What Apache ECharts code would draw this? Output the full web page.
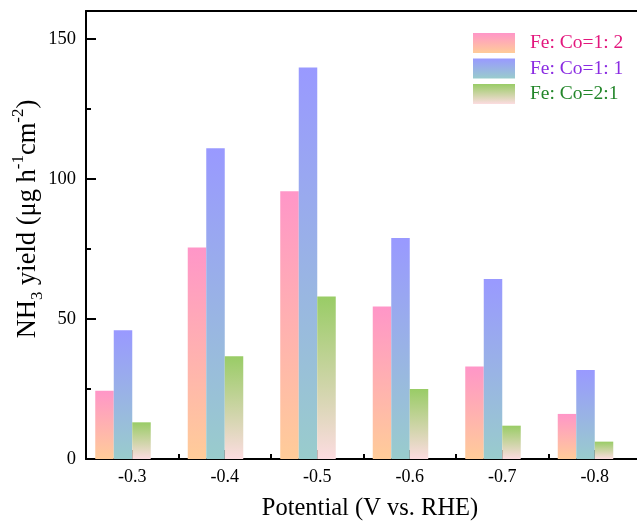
<!DOCTYPE html>
<html>
<head>
<meta charset="utf-8">
<script src="https://cdn.jsdelivr.net/npm/echarts@6/dist/echarts.min.js"></script>
<style>
html,body{margin:0;padding:0;background:#fff;}
#c{width:637px;height:522px;}
</style>
</head>
<body>
<div id="c"></div>
<script>
var categories = ['-0.3', '-0.4', '-0.5', '-0.6', '-0.7', '-0.8'];
var seriesNames = ['Fe: Co=1: 2', 'Fe: Co=1: 1', 'Fe: Co=2:1'];
var ratio12 = [24.4, 75.5, 95.6, 54.5, 33.0, 16.1];
var ratio11 = [46.0, 111.0, 139.8, 78.9, 64.3, 31.8];
var ratio21 = [13.1, 36.7, 58.0, 25.0, 11.9, 6.2];
var yMajorTicks = [0, 50, 100, 150];
var yMinorTicks = [25, 75, 125];

var FONT = '"Liberation Serif", "Times New Roman", serif';

function grad(top, bottom) {
  return new echarts.graphic.LinearGradient(0, 0, 0, 1, [
    {offset: 0, color: top}, {offset: 1, color: bottom}
  ]);
}
var fills = [
  grad('#ff96c8', '#ffcc99'),
  grad('#9999ff', '#99cccc'),
  grad('#99cc66', '#fcdce0')
];
var textColors = ['#e3177d', '#8a2be2', '#23862a'];
var values = [ratio12, ratio11, ratio21];

var chart = echarts.init(document.getElementById('c'), null, {renderer: 'canvas'});
var option = {
  backgroundColor: '#ffffff',
  animation: false,
  grid: [
    {left: 76.75, top: 11, width: 555, height: 448, outerBoundsMode: 'none'},
    {left: 86, top: 11, width: 555, height: 448, outerBoundsMode: 'none'}
  ],
  legend: {
    orient: 'vertical',
    left: 468,
    top: 28,
    itemWidth: 42,
    itemHeight: 20,
    itemGap: 5.5,
    icon: 'rect',
    textStyle: {fontFamily: FONT, fontSize: 19.5, padding: [0, 0, 0, 10]},
    data: seriesNames.map(function (n, i) {
      return {name: n, textStyle: {color: textColors[i]}};
    })
  },
  xAxis: [
    {
      gridIndex: 0,
      type: 'category',
      data: categories,
      show: false
    },
    {
      gridIndex: 1,
      type: 'category',
      data: categories,
      position: 'bottom',
      axisLine: {show: true, lineStyle: {color: '#000', width: 2}},
      axisTick: {show: true, inside: true, alignWithLabel: true, length: 9, lineStyle: {color: '#000', width: 2}},
      axisLabel: {fontFamily: FONT, fontSize: 18, color: '#000', margin: 9},
      name: 'Potential (V vs. RHE)',
      nameLocation: 'middle',
      nameGap: 37,
      nameMoveOverlap: false,
      nameTextStyle: {fontFamily: FONT, fontSize: 24.5, color: '#000', padding: [0, 0, 0, 13]},
      splitLine: {show: false}
    },
    {
      gridIndex: 1,
      type: 'category',
      data: categories,
      position: 'bottom',
      axisLine: {show: false},
      axisTick: {show: true, inside: true, alignWithLabel: false, length: 5, lineStyle: {color: '#000', width: 2}},
      axisLabel: {show: false},
      splitLine: {show: false}
    },
    {
      gridIndex: 1,
      type: 'category',
      data: categories,
      position: 'top',
      axisLine: {show: true, lineStyle: {color: '#000', width: 2}},
      axisTick: {show: false},
      axisLabel: {show: false},
      splitLine: {show: false}
    }
  ],
  yAxis: [
    {
      gridIndex: 0,
      type: 'value',
      min: 0,
      max: 160,
      show: false,
      splitLine: {show: false}
    },
    {
      gridIndex: 1,
      type: 'value',
      min: 0,
      max: 160,
      position: 'left',
      axisLine: {show: true, lineStyle: {color: '#000', width: 2}},
      axisTick: {show: true, inside: true, length: 10, customValues: yMajorTicks, lineStyle: {color: '#000', width: 2}},
      axisLabel: {fontFamily: FONT, fontSize: 18.5, color: '#000', margin: 10, customValues: yMajorTicks},
      splitLine: {show: false},
      name: 'NH{sub|3} yield (μg h{sup|-1}cm{sup|-2})',
      nameLocation: 'middle',
      nameRotate: 90,
      nameGap: 40,
      nameMoveOverlap: false,
      nameTextStyle: {
        fontFamily: FONT, fontSize: 26.5, color: '#000', lineHeight: 36,
        padding: [0, 0, 0, 32],
        rich: {
          sub: {fontFamily: FONT, fontSize: 17, color: '#000', verticalAlign: 'bottom'},
          sup: {fontFamily: FONT, fontSize: 17, color: '#000', verticalAlign: 'top'}
        }
      }
    },
    {
      gridIndex: 1,
      type: 'value',
      min: 0,
      max: 160,
      position: 'left',
      axisLine: {show: false},
      axisTick: {show: true, inside: true, length: 5, customValues: yMinorTicks, lineStyle: {color: '#000', width: 2}},
      axisLabel: {show: false},
      splitLine: {show: false}
    }
  ],
  series: seriesNames.map(function (n, i) {
    return {
      name: n,
      type: 'bar',
      xAxisIndex: 0,
      yAxisIndex: 0,
      data: values[i],
      barGap: '0%',
      barCategoryGap: '40%',
      itemStyle: {color: fills[i]}
    };
  })
};
chart.setOption(option);
</script>
</body>
</html>
